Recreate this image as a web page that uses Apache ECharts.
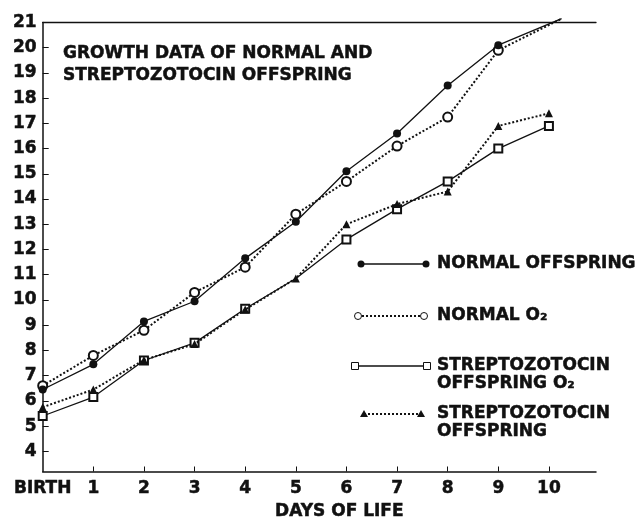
<!DOCTYPE html>
<html>
<head>
<meta charset="utf-8">
<script src="https://cdn.jsdelivr.net/npm/echarts@6/dist/echarts.min.js"></script>
<style>
html,body{margin:0;padding:0;background:#fff;}
#chart{width:636px;height:517px;}
</style>
</head>
<body>
<div id="chart"></div>
<script>
// ---- data ----
const days = [0, 1, 2, 3, 4, 5, 6, 7, 8, 9, 10];
const xTickLabels = ['BIRTH', '1', '2', '3', '4', '5', '6', '7', '8', '9', '10'];
const yTickValues = [4, 5, 6, 7, 8, 9, 10, 11, 12, 13, 14, 15, 16, 17, 18, 19, 20, 21];
const normalOffspring = [6.45, 7.45, 9.15, 9.95, 11.65, 13.1, 15.1, 16.6, 18.5, 20.1];
const normalO2 = [6.6, 7.8, 8.8, 10.3, 11.3, 13.4, 14.7, 16.1, 17.25, 19.9];
const normalLineEnd = [10.25, 21.15];
const strepO2 = [5.4, 6.15, 7.6, 8.3, 9.65, 10.85, 12.4, 13.6, 14.7, 16.0, 16.9];
const strepOffspring = [5.75, 6.45, 7.62, 8.25, 9.62, 10.85, 13.0, 13.8, 14.3, 16.9, 17.4];
const strepO2HiddenMarkDays = [5];
const seriesNames = ['NORMAL OFFSPRING', 'NORMAL O₂', 'STREPTOZOTOCIN\nOFFSPRING O₂', 'STREPTOZOTOCIN\nOFFSPRING'];
const titleText = 'GROWTH DATA OF NORMAL AND\nSTREPTOZOTOCIN OFFSPRING';
const xAxisName = 'DAYS OF LIFE';

// ---- build ----
const FONT = '"DejaVu Sans", sans-serif';
const INK = '#111';
const HEAVY = { textBorderColor: INK, textBorderWidth: 0.5 };
function pairs(vals, extra) {
  const d = vals.map((v, i) => [days[i], v]);
  if (extra) d.push({ value: extra, symbol: 'none' });
  return d;
}
const strepO2Data = strepO2.map((v, i) =>
  strepO2HiddenMarkDays.includes(days[i]) ? { value: [days[i], v], symbol: 'none' } : [days[i], v]);

const chart = echarts.init(document.getElementById('chart'), null, { renderer: 'canvas' });

const solid = { color: INK, width: 1.3, type: 'solid' };
const dotted = { color: INK, width: 2, type: [2, 2] };

// legend samples (graphic)
function legendSample(y, x1, x2, lineStyle, sym) {
  const els = [{
    type: 'line', shape: { x1: x1, y1: y, x2: x2, y2: y },
    style: { stroke: INK, lineWidth: lineStyle.width, lineDash: lineStyle.type === 'solid' ? null : lineStyle.type }
  }];
  [x1, x2].forEach(x => {
    if (sym === 'dot') els.push({ type: 'circle', shape: { cx: x, cy: y, r: 3.5 }, style: { fill: INK } });
    if (sym === 'ring') els.push({ type: 'circle', shape: { cx: x, cy: y, r: 3.5 }, style: { fill: '#fff', stroke: INK, lineWidth: 1 } });
    if (sym === 'box') els.push({ type: 'rect', shape: { x: x - 3.5, y: y - 3.5, width: 7, height: 7 }, style: { fill: '#fff', stroke: INK, lineWidth: 1 } });
    if (sym === 'tri') els.push({ type: 'polygon', shape: { points: [[x, y - 4], [x + 4, y + 3], [x - 4, y + 3]] }, style: { fill: INK } });
  });
  return els;
}
function legendText(y, txt) {
  return {
    type: 'text', x: 437, y: y - 9,
    style: { text: txt, font: 'bold 17px ' + FONT, fill: INK, lineHeight: 18, verticalAlign: 'top', align: 'left', stroke: INK, lineWidth: 0.5 }
  };
}

const graphics = [].concat(
  legendSample(264, 361, 426, solid, 'dot'), [legendText(264, seriesNames[0])],
  legendSample(316, 358, 424, dotted, 'ring'), [legendText(316, seriesNames[1])],
  legendSample(366, 355, 427, solid, 'box'), [legendText(366, seriesNames[2])],
  legendSample(414, 364, 421, dotted, 'tri'), [legendText(414, seriesNames[3])],
  [{
    type: 'text', x: 63, y: 42,
    style: { text: titleText, font: 'bold 17px ' + FONT, fill: INK, lineHeight: 22.7, verticalAlign: 'top', align: 'left', stroke: INK, lineWidth: 0.5 }
  }]
);

const option = {
  backgroundColor: '#fff',
  animation: false,
  textStyle: { fontFamily: FONT },
  grid: { left: 42.7, right: 40, top: 22.5, bottom: 45.5, containLabel: false, outerBoundsMode: 'none' },
  xAxis: [{
    type: 'value', min: 0, max: 10.93,
    name: xAxisName, nameLocation: 'middle', nameGap: 29,
    nameTextStyle: Object.assign({ fontFamily: FONT, fontWeight: 'bold', fontSize: 17, color: INK, padding: [0, 0, 0, 40] }, HEAVY),
    axisLine: { show: true, onZero: false, lineStyle: { color: INK, width: 1.5 } },
    axisTick: { show: true, inside: true, length: 5, customValues: days.slice(1), lineStyle: { color: INK } },
    axisLabel: Object.assign({
      show: true, margin: 9, customValues: days,
      formatter: v => xTickLabels[days.indexOf(Math.round(v))] || '',
      fontFamily: FONT, fontWeight: 'bold', fontSize: 17, color: INK
    }, HEAVY),
    splitLine: { show: false }
  }, {
    type: 'value', min: 0, max: 10.93, position: 'top',
    axisLine: { show: true, onZero: false, lineStyle: { color: INK, width: 1.3 } },
    axisTick: { show: false }, axisLabel: { show: false }, splitLine: { show: false }
  }],
  yAxis: {
    type: 'value', min: 3.2, max: 21,
    axisLine: { show: true, onZero: false, lineStyle: { color: INK, width: 1.5 } },
    axisTick: { show: true, inside: true, length: 6, customValues: yTickValues, lineStyle: { color: INK } },
    axisLabel: Object.assign({
      show: true, margin: 6, customValues: yTickValues,
      fontFamily: FONT, fontWeight: 'bold', fontSize: 17, color: INK
    }, HEAVY),
    splitLine: { show: false }
  },
  graphic: graphics,
  series: [
    {
      name: seriesNames[0], type: 'line', data: pairs(normalOffspring, normalLineEnd),
      symbol: 'circle', symbolSize: 8, clip: false,
      itemStyle: { color: INK }, lineStyle: solid, z: 3
    },
    {
      name: seriesNames[1], type: 'line', data: pairs(normalO2, normalLineEnd),
      symbol: 'emptyCircle', symbolSize: 9, clip: false,
      itemStyle: { color: INK, borderColor: INK, borderWidth: 1 }, lineStyle: dotted, z: 2
    },
    {
      name: seriesNames[2], type: 'line', data: strepO2Data,
      symbol: 'emptyRect', symbolSize: 8, clip: false,
      itemStyle: { color: INK, borderColor: INK, borderWidth: 1 }, lineStyle: solid, z: 2
    },
    {
      name: seriesNames[3], type: 'line', data: pairs(strepOffspring),
      symbol: 'triangle', symbolSize: 8, clip: false,
      itemStyle: { color: INK }, lineStyle: dotted, z: 3
    }
  ]
};
chart.setOption(option);
</script>
</body>
</html>
